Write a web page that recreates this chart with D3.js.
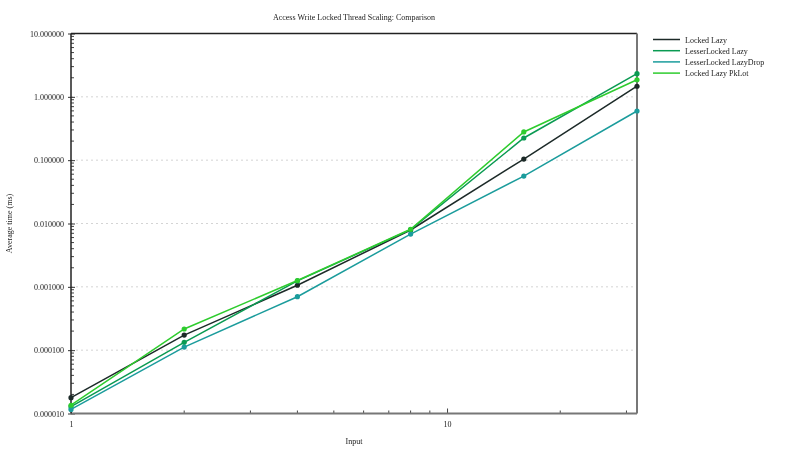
<!DOCTYPE html>
<html><head><meta charset="utf-8">
<script src="https://cdn.jsdelivr.net/npm/d3@7"></script>
<style>body{margin:0;background:#fff}svg{display:block;will-change:transform}text{font-family:"Liberation Serif","DejaVu Serif",serif;-webkit-font-smoothing:antialiased}</style>
</head><body><svg id="c" width="800" height="450"></svg>
<script>
const inputs = [1, 2, 4, 8, 16, 32];
const seriesNames = ["Locked Lazy", "LesserLocked Lazy", "LesserLocked LazyDrop", "Locked Lazy PkLot"];
const lockedLazy = [0.0000178, 0.000173, 0.00106, 0.0079, 0.104, 1.47];
const lesserLockedLazy = [0.0000128, 0.000133, 0.00124, 0.0080, 0.224, 2.32];
const lesserLockedLazyDrop = [0.0000116, 0.000112, 0.000698, 0.0068, 0.056, 0.598];
const lockedLazyPkLot = [0.0000135, 0.000216, 0.00126, 0.0081, 0.279, 1.86];
const colors = ["#1c2a28", "#0a9a52", "#1b9c9c", "#2ecc2e"];
const yTicks = [0.00001, 0.0001, 0.001, 0.01, 0.1, 1, 10];
const xTicks = [1, 10];
const title = "Access Write Locked Thread Scaling: Comparison";
const xLabel = "Input";
const yLabel = "Average time (ms)";

const svg = d3.select("#c");
const m = {l: 71, r: 637, t: 33.5, b: 413.5};
const x = d3.scaleLog().domain([1, 32]).range([m.l, m.r]);
const y = d3.scaleLog().domain([0.00001, 10]).range([m.b, m.t]);
const series = [lockedLazy, lesserLockedLazy, lesserLockedLazyDrop, lockedLazyPkLot];

// grid
svg.append("g").selectAll("line").data(yTicks.slice(1, -1)).join("line")
  .attr("x1", m.l).attr("x2", m.r).attr("y1", d => y(d)).attr("y2", d => y(d))
  .attr("stroke", "#d4d4d4").attr("stroke-width", 1).attr("stroke-dasharray", "2,3");

// minor ticks y (inside)
const yMinor = [];
for (let e = -5; e < 1; e++) for (let k = 2; k <= 9; k++) yMinor.push(k * Math.pow(10, e));
svg.append("g").selectAll("line").data(yMinor).join("line")
  .attr("x1", m.l).attr("x2", m.l + 3).attr("y1", d => y(d)).attr("y2", d => y(d))
  .attr("stroke", "#444").attr("stroke-width", 1);
// minor ticks x (inside)
const xMinor = [2,3,4,5,6,7,8,9,20,30];
svg.append("g").selectAll("line").data(xMinor).join("line")
  .attr("x1", d => x(d)).attr("x2", d => x(d)).attr("y1", m.b).attr("y2", m.b - 3)
  .attr("stroke", "#444").attr("stroke-width", 1);

// y axis
const yAxis = d3.axisLeft(y).tickValues(yTicks).tickFormat(d3.format(".6f")).tickSizeInner(4).tickSizeOuter(0).tickPadding(3);
const ga = svg.append("g").attr("transform", `translate(${m.l},0)`).call(yAxis);
ga.select(".domain").remove();
ga.selectAll(".tick line").attr("x2", 4).attr("x1", -3).attr("stroke", "#333");
ga.selectAll("text").attr("font-size", 8).attr("fill", "#1a1a1a").attr("x", -7);

// x axis
const xAxis = d3.axisBottom(x).tickValues(xTicks).tickFormat(d3.format("d")).tickSizeOuter(0);
const gx = svg.append("g").attr("transform", `translate(0,${m.b})`).call(xAxis);
gx.select(".domain").remove();
gx.selectAll(".tick line").attr("y1", 0).attr("y2", -5).attr("stroke", "#444");
gx.selectAll("text").attr("font-size", 8).attr("fill", "#1a1a1a").attr("y", 8);

// frame
svg.append("line").attr("x1", m.l).attr("x2", m.r).attr("y1", m.t).attr("y2", m.t).attr("stroke", "#222").attr("stroke-width", 1.5);
svg.append("line").attr("x1", m.r).attr("x2", m.r).attr("y1", m.t).attr("y2", m.b).attr("stroke", "#777").attr("stroke-width", 2);
svg.append("line").attr("x1", m.l).attr("x2", m.r).attr("y1", m.b).attr("y2", m.b).attr("stroke", "#777").attr("stroke-width", 2);
svg.append("line").attr("x1", m.l).attr("x2", m.l).attr("y1", m.t).attr("y2", m.b).attr("stroke", "#222").attr("stroke-width", 1.5);

// series
const line = d3.line().x((d, i) => x(inputs[i])).y(d => y(d));
series.forEach((s, i) => {
  const g = svg.append("g");
  g.append("path").datum(s).attr("d", line).attr("fill", "none").attr("stroke", colors[i]).attr("stroke-width", 1.5);
  g.selectAll("circle").data(s).join("circle").attr("cx", (d, j) => x(inputs[j])).attr("cy", d => y(d))
    .attr("r", 2.6).attr("fill", colors[i]);
});

// title and labels
svg.append("text").attr("x", (m.l + m.r) / 2).attr("y", 20).attr("text-anchor", "middle").attr("font-size", 8).attr("fill", "#1a1a1a").text(title);
svg.append("text").attr("x", (m.l + m.r) / 2).attr("y", 444).attr("text-anchor", "middle").attr("font-size", 8).attr("fill", "#1a1a1a").text(xLabel);
svg.append("text").attr("transform", `translate(12,${(m.t + m.b) / 2}) rotate(-90)`).attr("text-anchor", "middle").attr("font-size", 8).attr("fill", "#1a1a1a").text(yLabel);

// legend
const lg = svg.append("g");
seriesNames.forEach((n, i) => {
  const yy = 39.5 + i * 11.2;
  lg.append("line").attr("x1", 653).attr("x2", 680).attr("y1", yy).attr("y2", yy).attr("stroke", colors[i]).attr("stroke-width", 1.5);
  lg.append("text").attr("x", 685).attr("y", yy + 3).attr("font-size", 8).attr("fill", "#1a1a1a").text(n);
});
</script></body></html>
